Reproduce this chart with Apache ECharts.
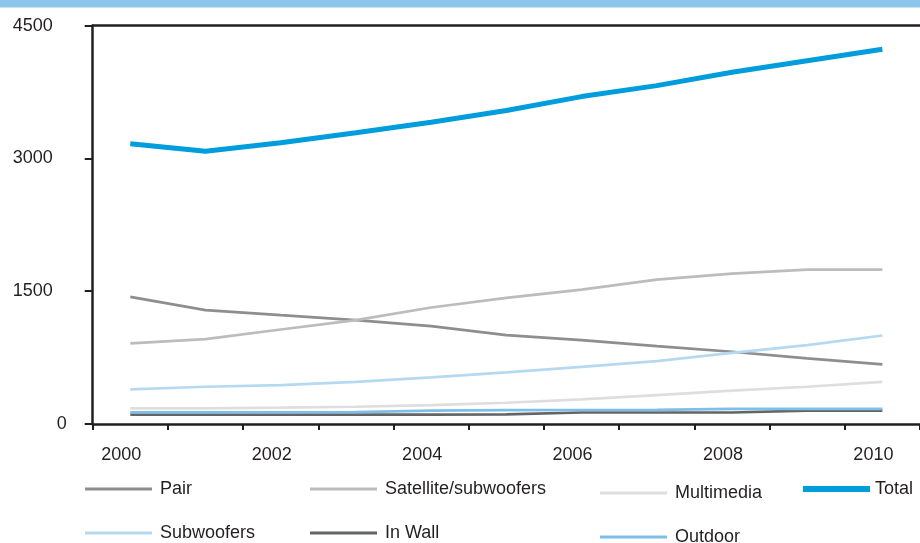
<!DOCTYPE html>
<html><head><meta charset="utf-8">
<script src="https://cdn.jsdelivr.net/npm/echarts@6/dist/echarts.min.js"></script>
<style>html,body{margin:0;padding:0;background:#fff}#c{width:920px;height:543px}</style>
</head><body><div id="c"></div>
<script>
const years = ['2000','2001','2002','2003','2004','2005','2006','2007','2008','2009','2010'];
const yTicks = [0, 1500, 3000, 4500];
const pair = [1436, 1286, 1229, 1173, 1105, 1004, 947, 880, 816, 741, 673];
const satellite = [910, 959, 1068, 1173, 1316, 1425, 1519, 1632, 1700, 1745, 1745];
const multimedia = [177, 177, 184, 195, 214, 240, 278, 327, 376, 421, 477];
const subwoofers = [391, 421, 440, 477, 526, 583, 646, 710, 804, 891, 1000];
const inWall = [105, 105, 105, 105, 105, 108, 130, 130, 130, 150, 150];
const outdoor = [132, 132, 132, 134, 150, 156, 158, 160, 170, 170, 170];
const total = [3166, 3082, 3177, 3290, 3410, 3541, 3699, 3823, 3974, 4105, 4233];

const FONT = '"Liberation Sans Narrow", "Liberation Sans", Arial, sans-serif';
const FS = 18;
const AX = '#231f20';
const seriesDefs = [
  {name:'Pair', data:pair, color:'#8e8e91', w:2.7, lx:85, ly:480, tp:3},
  {name:'Satellite/subwoofers', data:satellite, color:'#bcbcbf', w:2.7, lx:310, ly:480, tp:3},
  {name:'Multimedia', data:multimedia, color:'#dedede', w:2.7, lx:600, ly:484, tp:3},
  {name:'Subwoofers', data:subwoofers, color:'#b6d9f2', w:2.7, lx:85, ly:524, tp:3},
  {name:'In Wall', data:inWall, color:'#636466', w:2.7, lx:310, ly:524, tp:3},
  {name:'Outdoor', data:outdoor, color:'#7dbfe8', w:2.7, lx:600, ly:528, tp:3},
  {name:'Total', data:total, color:'#009ddc', w:5, lx:803, ly:480, tp:0}
];

const chart = echarts.init(document.getElementById('c'));
chart.setOption({
  animation:false,
  backgroundColor:'#fff',
  graphic:[{type:'rect', left:0, top:0, shape:{width:920, height:7.5}, style:{fill:'#8bc5eb'}, silent:true}],
  grid:{left:92.7, top:25.7, width:834, height:398.3},
  legend: seriesDefs.map(s => ({
    data:[s.name], left:s.lx, top:s.ly, icon:'rect', itemWidth:67, itemHeight:s.name==='Total'?6:3,
    selectedMode:false, padding:0,
    textStyle:{fontFamily:FONT, fontSize:FS, color:AX, padding:[0,0,0,s.tp]}
  })),
  xAxis:[{
    type:'category', data:years, boundaryGap:true,
    axisLine:{lineStyle:{color:AX, width:2.5}},
    axisTick:{show:true, interval:0, length:6, lineStyle:{color:AX, width:2}},
    axisLabel:{interval:1, margin:22, fontFamily:FONT, fontSize:FS, color:AX, padding:[0,18,0,0]}
  },{
    type:'category', data:years, position:'top', boundaryGap:true,
    axisLine:{show:true, lineStyle:{color:AX, width:2.5}},
    axisTick:{show:false}, axisLabel:{show:false}
  }],
  yAxis:{
    type:'value', min:yTicks[0], max:yTicks[yTicks.length-1], interval:1500,
    axisLine:{show:true, lineStyle:{color:AX, width:2.5}},
    axisTick:{show:true, length:8, lineStyle:{color:AX, width:2}},
    splitLine:{show:false},
    axisLabel:{margin:26, fontFamily:FONT, fontSize:FS, color:AX,
      formatter:v => v===0 ? '{z|0}' : '{p|'+v+'}',
      rich:{z:{fontFamily:FONT, fontSize:FS, color:AX}, p:{fontFamily:FONT, fontSize:FS, color:AX, padding:[0,14,0,0]}}}
  },
  series: seriesDefs.map(s => ({
    name:s.name, type:'line', data:s.data, color:s.color, symbol:'none', smooth:false,
    lineStyle:{color:s.color, width:s.w}, itemStyle:{color:s.color}, z: s.name==='Total'?5:2
  }))
});
</script></body></html>
